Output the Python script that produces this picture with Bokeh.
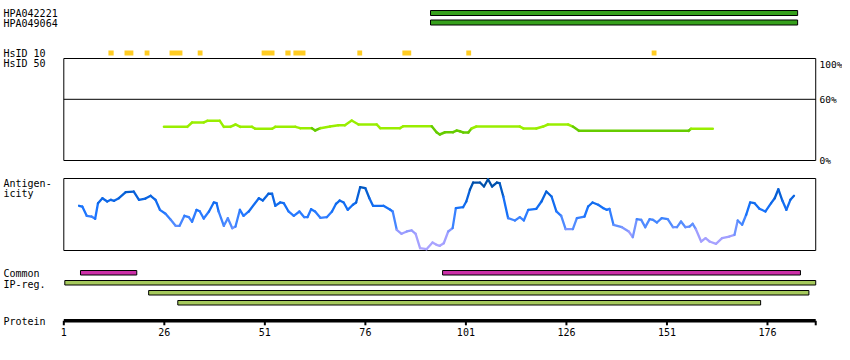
import numpy as np
from bokeh.plotting import figure
from bokeh.models import Range1d
from bokeh.core.properties import value
from bokeh.embed import file_html
from bokeh.resources import INLINE

# ---------------- data ----------------
protein_length = 188
hpa_names = ["HPA042221", "HPA049064"]
hpa_start = [92.2, 92.2]
hpa_end = [183.5, 183.5]

hsid10_start = [12.1, 16.1, 21.1, 27.3, 34.3, 50.2, 56.1, 58.1, 74.0, 85.2, 101.1, 147.2]
hsid10_end = [13.4, 18.3, 22.3, 30.5, 35.5, 53.4, 57.4, 61.1, 75.2, 87.4, 102.3, 148.4]

sim_pos = [25.9, 31.7, 32.9, 35.8, 36.7, 39.8, 40.8, 42.4, 43.7, 44.9,
           47.8, 48.6, 52.8, 53.6, 58.6, 59.8, 62.7, 63.5, 64.8, 67.2,
           69.3, 70.9, 72.6, 74.3, 78.8, 79.7, 84.6, 85.4, 92.5, 93.7,
           94.5, 95.8, 97.8, 98.7, 99.5, 100.3, 101.6, 102.4, 103.6, 114.4,
           115.3, 118.5, 120.2, 121.4, 126.4, 127.6, 129.1, 156.4, 157.0, 162.4]
sim_val = [33.0, 33.0, 37.3, 37.3, 38.9, 38.9, 33.0, 33.0, 35.3, 33.0,
           33.0, 31.1, 31.1, 33.0, 33.0, 31.7, 31.7, 29.4, 31.7, 33.3,
           34.6, 34.6, 39.2, 35.3, 35.3, 31.7, 31.7, 33.6, 33.6, 27.7,
           25.5, 27.7, 27.7, 29.4, 28.7, 27.5, 27.5, 31.4, 33.3, 33.3,
           31.4, 31.4, 33.3, 35.3, 35.3, 33.3, 29.1, 29.1, 31.1, 31.1]
sim_threshold = 30

ant_pos = [4.8, 5.6, 6.7, 7.9, 8.8, 9.5, 10.6, 11.8, 12.7, 13.5,
           14.7, 16.4, 18.4, 19.7, 21.3, 22.6, 23.8, 24.9, 26.3, 27.6,
           28.8, 29.8, 31.0, 32.1, 32.9, 34.0, 34.8, 35.8, 37.1, 38.3,
           39.0, 39.5, 40.8, 41.8, 42.9, 43.7, 44.8, 45.7, 47.0,
           49.5, 50.5, 51.9, 52.8, 53.6, 54.8, 55.7, 56.9, 58.2, 59.6,
           60.8, 61.6, 62.5, 63.5, 64.8, 66.4, 67.7, 68.7, 69.6, 70.6,
           71.6, 72.9, 73.7, 74.7, 76.0, 77.0, 77.9, 80.5, 82.2, 82.8,
           83.8, 85.0, 86.3, 87.5, 88.5, 89.6, 91.2, 92.7, 93.7, 94.5,
           95.5, 96.6, 97.7, 98.5, 100.3, 101.1, 102.0, 102.8, 104.5, 105.5,
           106.5, 107.5, 108.7, 109.4, 110.3, 111.5, 113.2, 114.4, 115.4, 116.5,
           118.5, 119.8, 121.0, 122.3, 123.5, 124.7, 125.8, 127.6, 128.6, 130.5,
           131.4, 132.5, 133.9, 135.2, 136.0, 136.7, 137.7, 139.8, 141.5,
           142.5, 143.5, 144.6, 145.6, 146.7, 147.5, 148.5, 149.7, 151.2, 152.5,
           153.5, 154.5, 155.6, 156.6, 157.4, 158.2, 159.5, 160.6, 161.6, 163.2,
           164.7, 166.5, 167.8, 168.6, 169.7, 170.7, 171.7, 172.8, 174.0, 175.5,
           176.9, 177.8, 178.7, 179.7, 180.7, 181.7, 182.6]
ant_val = [62.1, 61.1, 48.2, 47.2, 44.0, 65.7, 72.6, 68.1, 70.4, 69.0,
           72.6, 81.0, 81.9, 70.4, 72.2, 76.0, 70.4, 56.5, 51.0, 42.6,
           34.3, 34.3, 48.2, 46.3, 39.9, 56.5, 54.6, 44.4, 54.2, 66.7,
           65.7, 54.2, 34.3, 44.9, 31.0, 33.3, 56.5, 48.2, 54.2,
           72.6, 69.4, 78.8, 78.8, 62.1, 66.7, 65.7, 54.2, 48.2, 54.2,
           46.3, 46.3, 57.4, 54.2, 45.4, 46.3, 54.2, 64.9, 69.4, 66.7,
           56.5, 63.5, 66.7, 87.9, 86.5, 72.6, 62.1, 62.1, 56.5, 54.2,
           28.8, 23.2, 26.4, 27.8, 23.2, 3.2, 1.8, 11.1, 7.9, 6.5,
           10.1, 26.4, 31.0, 58.8, 60.1, 68.1, 84.3, 94.4, 94.4, 88.9,
           99.0, 88.9, 94.4, 93.5, 75.0, 44.9, 41.7, 46.3, 41.7, 56.5,
           57.9, 68.1, 81.9, 75.0, 54.2, 48.2, 29.6, 29.6, 44.9, 47.2,
           61.1, 66.7, 63.5, 58.8, 56.5, 57.9, 35.7, 32.4, 26.4,
           18.5, 43.5, 42.6, 32.4, 43.5, 42.6, 38.9, 44.9, 43.5, 32.4,
           32.4, 40.3, 32.4, 33.3, 37.1, 29.6, 12.5, 17.1, 12.5, 9.3,
           17.1, 19.4, 21.8, 41.7, 35.7, 49.6, 66.7, 65.7, 57.9, 54.2,
           65.7, 72.6, 85.1, 69.4, 56.5, 70.4, 76.0]

common_start = [5.15, 95.2]
common_end = [19.15, 184.2]
ipreg_start = [1.25, 22.1, 29.35]
ipreg_end = [188.0, 186.3, 174.3]

tick_values = [1, 26, 51, 76, 101, 126, 151, 176]
pct_ticks = [100, 60, 0]
pct_labels = ["100%", "60%", "0%"]

# ---------------- layout (picture pixels) ----------------
PX_PER_RES = 4.021
X0 = 63.3             # picture x of residue 1
IMG_LEFT, IMG_RIGHT = 0, 842
IMG_TOP, IMG_BOTTOM = 0, 345
PCT_TOP, PCT_BOTTOM = 58, 160
ANT_TOP, ANT_BOTTOM = 178, 250
AXIS_Y = 320.3

FONT = value("DejaVu Sans Mono")
FS = "10px"


def res_at(px):
    return 1 + (px - X0) / PX_PER_RES


def panel_range(top, bottom):
    s = (bottom - top) / 100.0
    return Range1d(start=(bottom - IMG_BOTTOM) / s, end=(bottom - IMG_TOP) / s)


p = figure(frame_width=IMG_RIGHT - IMG_LEFT, frame_height=IMG_BOTTOM - IMG_TOP,
           x_range=Range1d(res_at(IMG_LEFT), res_at(IMG_RIGHT)),
           y_range=Range1d(IMG_BOTTOM, IMG_TOP),
           x_axis_type=None, y_axis_type=None,
           toolbar_location=None, output_backend="svg",
           min_border=0, outline_line_color=None)
p.extra_y_ranges = {"pct": panel_range(PCT_TOP, PCT_BOTTOM),
                    "ant": panel_range(ANT_TOP, ANT_BOTTOM)}
x_lab = res_at(3)

# left labels
lab_text = hpa_names + ["HsID 10", "HsID 50", "Antigen-", "icity", "Common", "IP-reg.", "Protein"]
lab_y = [13, 23, 52.5, 62.5, 183, 193, 273, 283.5, 320.5]
p.text(x=[x_lab] * len(lab_text), y=lab_y, text=lab_text, text_font=FONT,
       text_font_size=FS, text_baseline="middle", text_align="left", text_color="black")

# HPA antigen bars
hpa_rows = [(10, 15), (19.5, 24.5)]
p.quad(left=hpa_start, right=hpa_end, top=[r[0] for r in hpa_rows], bottom=[r[1] for r in hpa_rows],
       fill_color="#36a01c", line_color="black", line_width=1)

# HsID 10 blocks
p.quad(left=hsid10_start, right=hsid10_end, top=50, bottom=55,
       fill_color="#ffcc22", line_color=None)

# HsID 50 panel
p.quad(left=[1], right=[protein_length], top=[100], bottom=[0], y_range_name="pct",
       fill_color=None, line_color="black", line_width=1)
p.segment(x0=[1], x1=[protein_length], y0=[60], y1=[60], y_range_name="pct",
          line_color="black", line_width=1)
sx0, sx1 = sim_pos[:-1], sim_pos[1:]
sy0, sy1 = sim_val[:-1], sim_val[1:]
scol = ["#66cc00" if min(a, b) < sim_threshold else "#99ee00" for a, b in zip(sy0, sy1)]
p.segment(x0=sx0, x1=sx1, y0=sy0, y1=sy1, y_range_name="pct",
          line_color=scol, line_width=2.5, line_cap="round")
p.text(x=[res_at(819)] * 3, y=pct_ticks, text=pct_labels, y_range_name="pct",
       text_font=FONT, text_font_size="9.5px",
       text_baseline=["top", "middle", "middle"], text_align="left", text_color="black")

# Antigenicity panel
p.quad(left=[1], right=[protein_length], top=[100], bottom=[0], y_range_name="ant",
       fill_color=None, line_color="black", line_width=1)

stops_v = [0, 25, 35, 55, 75, 90, 100]
stops_c = [(176, 168, 255), (156, 156, 255), (90, 143, 255), (26, 117, 255),
           (10, 100, 224), (0, 84, 180), (0, 74, 154)]


def ant_color(v):
    r = np.interp(v, stops_v, [c[0] for c in stops_c])
    g = np.interp(v, stops_v, [c[1] for c in stops_c])
    b = np.interp(v, stops_v, [c[2] for c in stops_c])
    return "#%02x%02x%02x" % (int(r), int(g), int(b))


ax0, ax1 = ant_pos[:-1], ant_pos[1:]
ay0, ay1 = ant_val[:-1], ant_val[1:]
acol = [ant_color((a + b) / 2) for a, b in zip(ay0, ay1)]
p.segment(x0=ax0, x1=ax1, y0=ay0, y1=ay1, y_range_name="ant",
          line_color=acol, line_width=2.3, line_cap="round")

# Common / IP-reg bars
p.quad(left=common_start, right=common_end, top=270, bottom=274.5,
       fill_color="#cc2fa8", line_color="black", line_width=1)
ip_rows = [(280, 284.5), (290, 294.5), (300, 304.5)]
p.quad(left=ipreg_start, right=ipreg_end, top=[r[0] for r in ip_rows], bottom=[r[1] for r in ip_rows],
       fill_color="#a5c95c", line_color="black", line_width=1)

# Protein ruler (axis line, ticks and labels drawn on the residue scale)
all_ticks = tick_values + [protein_length]
p.segment(x0=[1], x1=[protein_length], y0=[AXIS_Y], y1=[AXIS_Y],
          line_color="black", line_width=3.5)
p.segment(x0=all_ticks, x1=all_ticks, y0=[AXIS_Y] * len(all_ticks),
          y1=[AXIS_Y + 4.5] * len(all_ticks), line_color="black", line_width=2)
p.text(x=tick_values, y=[AXIS_Y + 7.5] * len(tick_values), text=[str(t) for t in tick_values],
       text_font=FONT, text_font_size=FS, text_baseline="top", text_align="center",
       text_color="black")

p.background_fill_color = "white"
p.border_fill_color = "white"

open("out.html", "w").write(file_html(p, INLINE))
